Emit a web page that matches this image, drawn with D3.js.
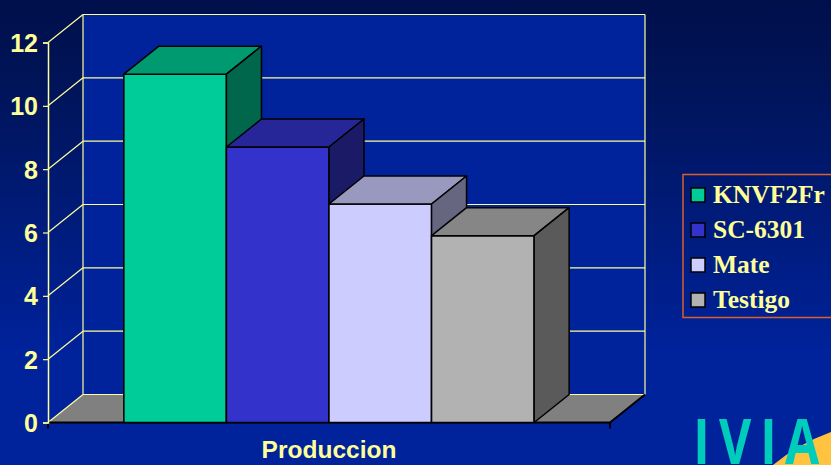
<!DOCTYPE html>
<html>
<head>
<meta charset="utf-8">
<script src="https://cdn.jsdelivr.net/npm/d3@7"></script>
<style>
  html, body { margin: 0; padding: 0; background: #001050; }
  svg { display: block; }
</style>
</head>
<body>
<svg id="chart" width="831" height="465"></svg>
<script>
// Production by treatment, one category with four series
const categories = ["Produccion"];
const series = ["KNVF2Fr", "SC-6301", "Mate", "Testigo"];
const values = [11.0, 8.7, 6.9, 5.9];
const yTicks = [0, 2, 4, 6, 8, 10, 12];

// face colours per series: front, top, side
const frontColors = ["#00CC99", "#3333CC", "#CCCCFF", "#B2B2B2"];
const topColors   = ["#009A70", "#262699", "#9999BF", "#868686"];
const sideColors  = ["#00664C", "#1A1A66", "#666680", "#5A5A5A"];

const W = 831, H = 465;
const svg = d3.select("#chart");

// depth offset of the 3D box
const DX = 35, DY = -28;

const frontLeft = 48, frontRight = 610;
const y = d3.scaleLinear().domain([0, 12]).range([422.5, 42.5]);
const x0 = d3.scaleBand().domain(categories).range([frontLeft, frontRight])
  .paddingInner(0.27).paddingOuter(0.135);
const x1 = d3.scaleBand().domain(series).range([0, x0.bandwidth()]).padding(0);

// background gradient
const defs = svg.append("defs");
const g0 = defs.append("linearGradient").attr("id", "bg")
  .attr("x1", 0).attr("y1", 0).attr("x2", 0).attr("y2", 1);
g0.append("stop").attr("offset", "0%").attr("stop-color", "#000F4C");
g0.append("stop").attr("offset", "15%").attr("stop-color", "#001355");
g0.append("stop").attr("offset", "75%").attr("stop-color", "#00229A");
g0.append("stop").attr("offset", "100%").attr("stop-color", "#00229A");
svg.append("rect").attr("width", W).attr("height", H).attr("fill", "url(#bg)");

// back wall
const wallTop = y(12) + DY, wallBottom = y(0) + DY;
svg.append("rect")
  .attr("x", frontLeft + DX).attr("y", wallTop)
  .attr("width", frontRight - frontLeft).attr("height", wallBottom - wallTop)
  .attr("fill", "#00229A");

// floor
svg.append("path")
  .attr("d", `M${frontLeft},${y(0)} L${frontRight},${y(0)} L${frontRight + DX},${y(0) + DY} L${frontLeft + DX},${y(0) + DY} Z`)
  .attr("fill", "#808080");

// gridlines: along the back wall and diagonally across the side
const grid = svg.append("g").attr("stroke", "#FFFF99").attr("stroke-width", 1.2).attr("fill", "none");
yTicks.forEach(v => {
  const yy = y(v);
  grid.append("line").attr("x1", frontLeft + DX).attr("x2", frontRight + DX)
    .attr("y1", yy + DY).attr("y2", yy + DY);
  grid.append("line").attr("x1", frontLeft).attr("x2", frontLeft + DX)
    .attr("y1", yy).attr("y2", yy + DY);
});
// wall edges
grid.append("line").attr("x1", frontLeft + DX).attr("x2", frontLeft + DX)
  .attr("y1", wallTop).attr("y2", wallBottom);
grid.append("line").attr("x1", frontRight + DX).attr("x2", frontRight + DX)
  .attr("y1", wallTop).attr("y2", wallBottom);

// floor front and right edges
svg.append("path")
  .attr("d", `M${frontLeft},${y(0)} L${frontRight},${y(0)} L${frontRight + DX},${y(0) + DY}`)
  .attr("fill", "none").attr("stroke", "#000").attr("stroke-width", 2);
// x-axis end ticks
svg.append("g").selectAll("line").data([frontLeft, frontRight]).join("line")
  .attr("x1", d => d).attr("x2", d => d).attr("y1", y(0)).attr("y2", y(0) + 6)
  .attr("stroke", "#000").attr("stroke-width", 2);

// bars
const bars = svg.append("g").attr("stroke", "#000").attr("stroke-width", 1.5).attr("stroke-linejoin", "round");
series.forEach((s, i) => {
  const xl = x0(categories[0]) + x1(s);
  const xr = xl + x1.bandwidth();
  const yt = y(values[i]), yb = y(0);
  const b = bars.append("g");
  b.append("path")
    .attr("d", `M${xl},${yb} L${xl},${yt} L${xr},${yt} L${xr},${yb} Z`)
    .attr("fill", frontColors[i]);
  b.append("path")
    .attr("d", `M${xl},${yt} L${xl + DX},${yt + DY} L${xr + DX},${yt + DY} L${xr},${yt} Z`)
    .attr("fill", topColors[i]);
  b.append("path")
    .attr("d", `M${xr},${yt} L${xr + DX},${yt + DY} L${xr + DX},${yb + DY} L${xr},${yb} Z`)
    .attr("fill", sideColors[i]);
});

// y axis
const yAxis = svg.append("g")
  .attr("transform", `translate(${frontLeft},0)`)
  .call(d3.axisLeft(y).tickValues(yTicks).tickFormat(d3.format("d")).tickSize(5).tickPadding(5));
yAxis.select(".domain").attr("stroke", "#FFFF99").attr("stroke-width", 1.5);
yAxis.selectAll(".tick line").attr("stroke", "#FFFF99").attr("stroke-width", 1.2);
yAxis.selectAll(".tick text")
  .attr("fill", "#FFFF99")
  .attr("font-family", "'Liberation Sans', Arial, sans-serif")
  .attr("font-weight", "bold")
  .attr("font-size", 25)
  .attr("dy", "0.36em");

// category label
svg.append("text")
  .attr("x", x0(categories[0]) + x0.bandwidth() / 2)
  .attr("y", 458)
  .attr("text-anchor", "middle")
  .attr("fill", "#FFFF99")
  .attr("font-family", "'Liberation Sans', Arial, sans-serif")
  .attr("font-weight", "bold")
  .attr("font-size", 24.5)
  .text(categories[0]);

// legend
const legend = svg.append("g");
legend.append("rect")
  .attr("x", 683).attr("y", 174.5).attr("width", 170).attr("height", 143)
  .attr("fill", "none").attr("stroke", "#D8602E").attr("stroke-width", 1.5);
series.forEach((s, i) => {
  const base = 203 + i * 35;
  legend.append("rect")
    .attr("x", 691).attr("y", base - 15).attr("width", 14).attr("height", 14)
    .attr("fill", frontColors[i]).attr("stroke", "#000").attr("stroke-width", 1.5);
  legend.append("text")
    .attr("x", 713).attr("y", base)
    .attr("fill", "#FFFF99")
    .attr("font-family", "'Liberation Serif', 'Times New Roman', serif")
    .attr("font-weight", "bold")
    .attr("font-size", 25.5)
    .text(s);
});

// institute logo
svg.append("path")
  .attr("d", "M773,465 Q798,444 831,432 L831,465 Z")
  .attr("fill", "#FFC340");
const sx = 0.8;
svg.append("g")
  .attr("transform", `translate(0,464) scale(${sx},1)`)
  .append("text")
  .attr("x", [701.5, 735, 768.5, 802].map(v => v / sx).join(" "))
  .attr("y", 0)
  .attr("text-anchor", "middle")
  .attr("fill", "#00CCBB")
  .attr("font-family", "'Open Sans', sans-serif")
  .attr("font-weight", 700)
  .attr("font-size", 62)
  .text("IVIA");
</script>
</body>
</html>
